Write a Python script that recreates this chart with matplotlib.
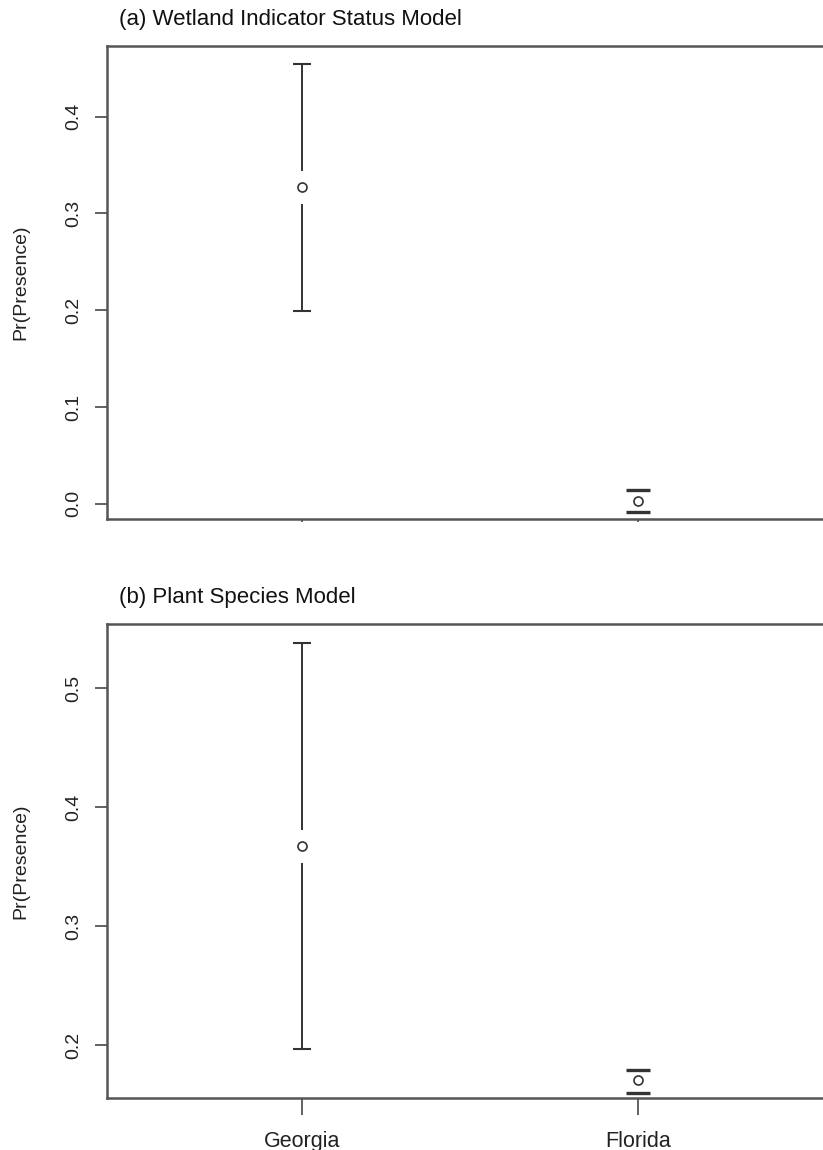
import matplotlib
matplotlib.use("Agg")
import matplotlib.pyplot as plt

plt.rcParams["font.family"] = ["Liberation Sans", "DejaVu Sans"]

# Estimated probability of presence with confidence limits, by state
states = ["Georgia", "Florida"]

wetland_est = [0.327, 0.003]
wetland_lower = [0.1995, -0.0087]
wetland_upper = [0.4542, 0.0144]

species_est = [0.367, 0.1706]
species_lower = [0.1966, 0.160]
species_upper = [0.538, 0.179]

wetland_ticks = [0.0, 0.1, 0.2, 0.3, 0.4]
species_ticks = [0.2, 0.3, 0.4, 0.5]

W, H, DPI = 823, 1150, 100
fig = plt.figure(figsize=(W / DPI, H / DPI), dpi=DPI)

ink = "#333333"
frame = "#555555"

left_px, right_px = 106.7, 833.0


def make_axes(top_px, bottom_px):
    return fig.add_axes([left_px / W, 1 - bottom_px / H,
                         (right_px - left_px) / W, (bottom_px - top_px) / H])


def draw_panel(ax, est, lower, upper, ylim, ticks, title, title_y_px,
               show_xlabels, xtick_len):
    x = list(range(1, len(states) + 1))
    ax.set_xlim(0.42, len(states) + 0.58)
    ax.set_ylim(*ylim)
    ax.set_yticks(ticks)
    ax.set_yticklabels([f"{t:.1f}" for t in ticks], rotation=90, va="center")
    ax.set_xticks(x)
    if show_xlabels:
        ax.set_xticklabels(states, fontsize=15.5)
    else:
        ax.set_xticklabels([])
    ax.tick_params(axis="y", length=8.5, width=1.3, color=frame,
                   labelsize=14, pad=9, labelcolor="#222222")
    ax.tick_params(axis="x", length=xtick_len, width=1.3, color=frame,
                   pad=12, labelcolor="#222222")
    for side in ("left", "bottom", "top", "right"):
        ax.spines[side].set_color(frame)
        ax.spines[side].set_linewidth(1.8)

    # vertical gap left open around each estimate, in data units
    ax_h_px = ax.get_position().height * H
    gap = 16.5 * (ylim[1] - ylim[0]) / ax_h_px
    cap_w = 9.0 / (ax.get_position().width * W) * (ax.get_xlim()[1] - ax.get_xlim()[0])

    for xi, m, lo, hi in zip(x, est, lower, upper):
        if hi > m + gap:
            ax.plot([xi, xi], [m + gap, hi], color=ink, lw=1.4, solid_capstyle="butt")
        if lo < m - gap:
            ax.plot([xi, xi], [lo, m - gap], color=ink, lw=1.4, solid_capstyle="butt")
        short = (hi - lo) < 2 * gap
        cw = cap_w * (1.3 if short else 1.0)
        lw = 2.4 if short else 1.5
        ax.plot([xi - cw, xi + cw], [hi, hi], color=ink, lw=lw, solid_capstyle="butt")
        ax.plot([xi - cw, xi + cw], [lo, lo], color=ink, lw=lw, solid_capstyle="butt")
        ax.plot([xi], [m], marker="o", ms=6.5, mfc="white", mec=ink, mew=1.2,
                linestyle="none")

    ax.set_ylabel("Pr(Presence)", fontsize=14, color="#222222")
    ax.yaxis.set_label_coords((29 - left_px) / (right_px - left_px), 0.5)
    fig.text(119 / W, 1 - title_y_px / H, title, fontsize=16,
             va="center", ha="left", color="#111111")


ax1 = make_axes(46, 519.3)
draw_panel(ax1, wetland_est, wetland_lower, wetland_upper, (-0.0159, 0.473),
           wetland_ticks, "(a) Wetland Indicator Status Model", 20, False, 2)

ax2 = make_axes(624, 1098)
draw_panel(ax2, species_est, species_lower, species_upper, (0.1555, 0.5538),
           species_ticks, "(b) Plant Species Model", 598, True, 12)

fig.savefig("out.png", dpi=DPI, facecolor="white")
